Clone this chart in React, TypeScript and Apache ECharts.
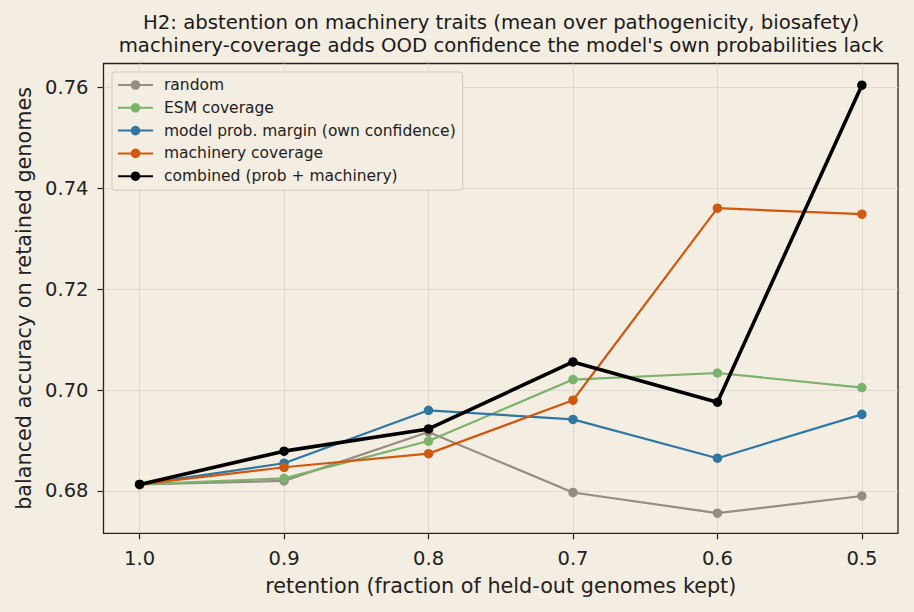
import React, { useEffect, useRef } from "react";
import * as echarts from "echarts";

// Retention levels (fraction of held-out genomes kept), left to right
const retention = [1.0, 0.9, 0.8, 0.7, 0.6, 0.5];

// Balanced accuracy on retained genomes for each abstention score
const randomAcc = [0.6813, 0.682, 0.6917, 0.6797, 0.6756, 0.679];
const esmCoverageAcc = [0.6813, 0.6825, 0.6899, 0.7021, 0.7034, 0.7005];
const probMarginAcc = [0.6813, 0.6855, 0.696, 0.6942, 0.6865, 0.6952];
const machineryAcc = [0.6813, 0.6847, 0.6874, 0.698, 0.7361, 0.7349];
const combinedAcc = [0.6813, 0.6879, 0.6923, 0.7056, 0.6976, 0.7605];

const seriesNames = [
  "random",
  "ESM coverage",
  "model prob. margin (own confidence)",
  "machinery coverage",
  "combined (prob + machinery)",
];

const xTicks = [1.0, 0.9, 0.8, 0.7, 0.6, 0.5];
const yTicks = [0.68, 0.7, 0.72, 0.74, 0.76];

const titleLines = [
  "H2: abstention on machinery traits (mean over pathogenicity, biosafety)",
  "machinery-coverage adds OOD confidence the model's own probabilities lack",
];
const xAxisName = "retention (fraction of held-out genomes kept)";
const yAxisName = "balanced accuracy on retained genomes";

const FONT = "DejaVu Sans";
const BG = "#f4ede1";
const INK = "#222222";
const GRID_LINE = "#e1d8ca";

const styles = [
  { color: "#948d84", width: 2.2 },
  { color: "#7bb26c", width: 2.2 },
  { color: "#2e77a4", width: 2.2 },
  { color: "#d1580f", width: 2.2 },
  { color: "#000000", width: 3.6 },
];

const seriesValues = [randomAcc, esmCoverageAcc, probMarginAcc, machineryAcc, combinedAcc];

export default function App() {
  const ref = useRef<HTMLDivElement>(null);

  useEffect(() => {
    document.body.style.margin = "0";
    document.body.style.background = BG;
    const chart = echarts.init(ref.current!, null, { renderer: "svg" });

    const series = seriesValues.map((vals, k) => ({
      name: seriesNames[k],
      type: "line" as const,
      data: retention.map((r, i) => [r, vals[i]]),
      symbol: "circle",
      symbolSize: 9.5,
      showSymbol: true,
      z: 2 + k,
      lineStyle: { color: styles[k].color, width: styles[k].width },
      itemStyle: { color: styles[k].color, borderWidth: 0 },
      emphasis: { disabled: true },
    }));

    chart.setOption({
      animation: false,
      backgroundColor: BG,
      textStyle: { fontFamily: FONT },
      grid: {
        left: 103.5,
        right: 16,
        top: 63.5,
        bottom: 78.7,
        show: true,
        borderColor: INK,
        borderWidth: 1.3,
        backgroundColor: "transparent",
        containLabel: false,
      },
      // two-line title, centred over the plot area
      graphic: [
        {
          type: "text",
          x: 501,
          y: 34.15,
          style: {
            text: titleLines.join("\n"),
            font: `19.7px '${FONT}'`,
            lineHeight: 23,
            fill: "#1a1a1a",
            textAlign: "center",
            textVerticalAlign: "middle",
          },
        },
      ],
      legend: {
        orient: "vertical",
        left: 112,
        top: 72,
        itemWidth: 35,
        itemHeight: 12,
        itemGap: 6.8,
        padding: [5, 7, 6, 5],
        backgroundColor: BG,
        borderColor: "#d0c8bc",
        borderWidth: 1,
        borderRadius: 3,
        data: seriesNames,
        textStyle: {
          fontSize: 15.5,
          fontFamily: FONT,
          color: INK,
          lineHeight: 16,
          padding: [0, 0, 0, 6],
        },
      },
      xAxis: {
        type: "value",
        inverse: true,
        min: 0.475,
        max: 1.025,
        name: xAxisName,
        nameLocation: "middle",
        nameGap: 42.5,
        nameTextStyle: { fontSize: 20.75, fontFamily: FONT, color: INK },
        axisLine: { show: false },
        axisTick: {
          show: true,
          length: 6,
          customValues: xTicks,
          lineStyle: { color: INK, width: 1.2 },
        },
        axisLabel: {
          customValues: xTicks,
          formatter: (v: number) => v.toFixed(1),
          fontSize: 19.5,
          fontFamily: FONT,
          color: INK,
          margin: 15,
        },
        splitLine: { show: true, lineStyle: { color: GRID_LINE, width: 1 } },
      },
      yAxis: {
        type: "value",
        min: 0.6716,
        max: 0.7648,
        name: yAxisName,
        nameLocation: "middle",
        nameGap: 68.6,
        nameTextStyle: { fontSize: 20.75, fontFamily: FONT, color: INK },
        axisLine: { show: false },
        axisTick: {
          show: true,
          length: 6,
          customValues: yTicks,
          lineStyle: { color: INK, width: 1.2 },
        },
        axisLabel: {
          customValues: yTicks,
          formatter: (v: number) => v.toFixed(2),
          fontSize: 19.5,
          fontFamily: FONT,
          color: INK,
          margin: 15,
        },
        splitLine: { show: true, lineStyle: { color: GRID_LINE, width: 1 } },
      },
      series,
    });

    return () => chart.dispose();
  }, []);

  return (
    <div
      ref={ref}
      style={{ position: "fixed", left: 0, top: 0, width: 914, height: 612 }}
    />
  );
}
